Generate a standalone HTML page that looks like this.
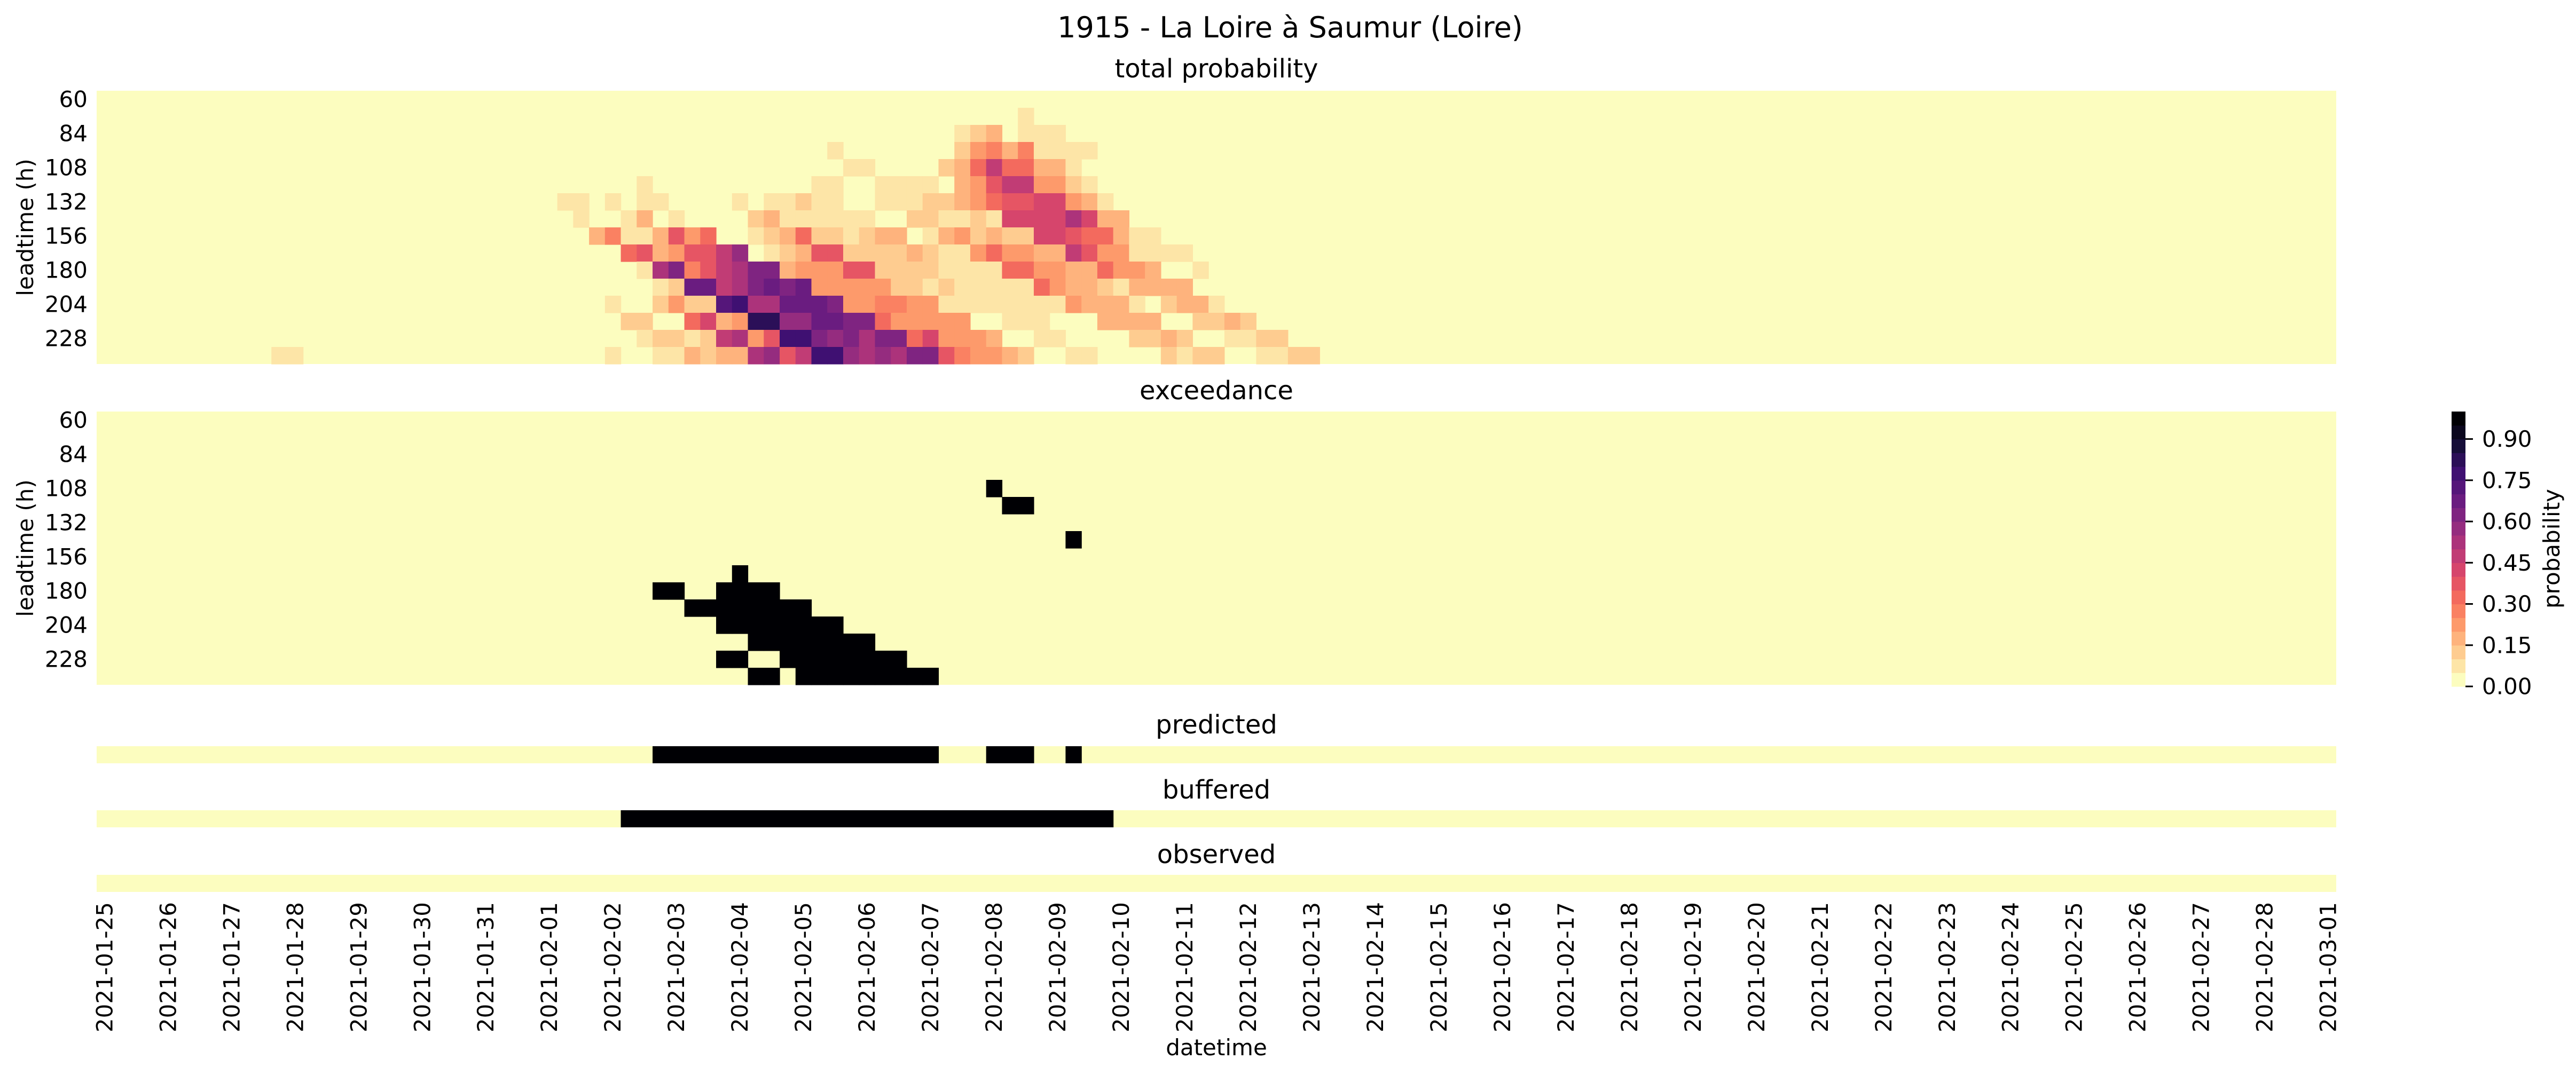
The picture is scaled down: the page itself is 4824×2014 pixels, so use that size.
<!DOCTYPE html>
<html><head><meta charset="utf-8"><style>
html,body{margin:0;padding:0;background:#fff;}
svg{display:block;font-family:"DejaVu Sans","Liberation Sans",sans-serif;}
</style></head><body>
<svg id="chart" width="4824" height="2014" viewBox="0 0 4824 2014" xmlns="http://www.w3.org/2000/svg">
<rect width="4824" height="2014" fill="#fff"/>
<text x="2416" y="70" font-size="54" text-anchor="middle">1915 - La Loire à Saumur (Loire)</text>
<text x="2278" y="145" font-size="48" text-anchor="middle">total probability</text>
<text x="2278" y="748" font-size="48" text-anchor="middle">exceedance</text>
<text x="2278" y="1374" font-size="48" text-anchor="middle">predicted</text>
<text x="2278" y="1496" font-size="48" text-anchor="middle">buffered</text>
<text x="2278" y="1617" font-size="48" text-anchor="middle">observed</text>
<text x="2278" y="1977" font-size="42" text-anchor="middle">datetime</text>
<text transform="translate(62,426) rotate(-90)" font-size="42" text-anchor="middle">leadtime (h)</text>
<text transform="translate(62,1027) rotate(-90)" font-size="42" text-anchor="middle">leadtime (h)</text>
<text transform="translate(4793,1028) rotate(-90)" font-size="42" text-anchor="middle">probability</text>
<g id="layers"></g>
</svg>
<script>
// ---- data ----
const leadtimes = [60,72,84,96,108,120,132,144,156,168,180,192,204,216,228,240];
const yTickLabels = [60,84,108,132,156,180,204,228];
const nCols = 141; // 6-hourly steps from 2021-01-25 00:00
const dateLabels = ["2021-01-25","2021-01-26","2021-01-27","2021-01-28","2021-01-29","2021-01-30","2021-01-31","2021-02-01","2021-02-02","2021-02-03","2021-02-04","2021-02-05","2021-02-06","2021-02-07","2021-02-08","2021-02-09","2021-02-10","2021-02-11","2021-02-12","2021-02-13","2021-02-14","2021-02-15","2021-02-16","2021-02-17","2021-02-18","2021-02-19","2021-02-20","2021-02-21","2021-02-22","2021-02-23","2021-02-24","2021-02-25","2021-02-26","2021-02-27","2021-02-28","2021-03-01"];
const cbTicks = [0,0.15,0.30,0.45,0.60,0.75,0.90];
// total probability: first nonzero column per leadtime row, then values
const probRowStart = [0,58,54,46,47,34,29,30,31,33,34,35,32,33,34,11];
const probRowValues = [
 [],
 [.05],
 [.05,.1,.15,0,.05,.05,.05],
 [.05,0,0,0,0,0,0,0,.1,.2,.25,.15,.25,.05,.05,.05,.05],
 [.05,.05,0,0,0,0,.1,.15,.3,.45,.3,.3,.15,.15,.05],
 [.05,0,0,0,0,0,0,0,0,0,0,.05,.05,0,0,.05,.05,.05,.05,0,.15,.2,.35,.45,.45,.2,.2,.1,.05],
 [.05,.05,0,.05,0,.05,.05,0,0,0,0,.05,0,.05,.05,.1,.05,.05,0,0,.05,.05,.05,.1,.1,.15,.2,.3,.35,.35,.4,.4,.2,.15,.05],
 [.05,0,0,.05,.15,0,.05,0,0,0,0,.1,.15,.05,.05,.05,.05,.05,.05,0,0,.1,.1,.05,.05,.1,.05,.4,.4,.4,.4,.5,.4,.15,.15],
 [.15,.25,.05,.05,.15,.35,.2,.3,0,0,.05,.1,.15,.3,.1,.1,.05,.1,.15,.15,0,.05,.15,.2,.1,.15,.1,.1,.4,.4,.35,.3,.3,.15,.05,.05],
 [.3,.35,.15,.2,.35,.35,.45,.55,0,.05,.1,.15,.35,.35,.1,.1,.1,.1,.15,.1,.05,.05,.2,.3,.2,.2,.15,.15,.45,.35,.2,.2,.05,.05,.05,.05],
 [.05,.5,.6,.25,.35,.45,.5,.6,.6,.15,.2,.2,.2,.35,.35,.1,.1,.1,.1,.05,.05,.05,.05,.3,.3,.2,.2,.15,.15,.3,.2,.2,.15,0,0,.05],
 [.05,.1,.65,.65,.45,.5,.6,.65,.6,.65,.2,.2,.2,.2,.2,.1,.1,.05,.1,.05,.05,.05,.05,.05,.3,.2,.15,.15,.1,.05,.15,.15,.15,.15],
 [.05,0,0,.1,.2,.1,.1,.7,.75,.5,.5,.65,.65,.65,.6,.2,.2,.25,.25,.2,.2,.05,.05,.05,.05,.05,.05,.05,.05,.2,.15,.15,.15,.05,0,.1,.15,.15,.05],
 [.1,.1,0,0,.3,.4,.15,.2,.8,.8,.55,.55,.65,.65,.6,.6,.3,.2,.2,.2,.2,.2,0,0,.05,.05,.05,0,0,0,.15,.15,.15,.15,0,0,.1,.1,.15,.1],
 [.05,.1,.1,.05,.1,.45,.5,.2,.35,.75,.75,.6,.55,.6,.5,.6,.6,.3,.4,.2,.2,.2,.15,0,0,.05,.05,0,0,0,0,.1,.1,.15,.1,0,0,.05,.05,.1,.1],
 [.05,.05,0,0,0,0,0,0,0,0,0,0,0,0,0,0,0,0,0,0,0,.05,0,0,.05,.05,.15,.1,.15,.15,.5,.55,.35,.45,.75,.75,.55,.5,.55,.5,.6,.6,.35,.25,.2,.2,.15,.1,0,0,.05,.05,0,0,0,0,.1,.05,.1,.1,0,0,.05,.05,.1,.1]
];
// exceedance: columns flagged per leadtime row
const exceedCols = [
 [],[],[],[],[56],[57,58],[],[61],[],[40],
 [35,36,39,40,41,42],
 [37,38,39,40,41,42,43,44],
 [39,40,41,42,43,44,45,46],
 [41,42,43,44,45,46,47,48],
 [39,40,43,44,45,46,47,48,49,50],
 [41,42,44,45,46,47,48,49,50,51,52]
];
const predictedCols = [35,36,37,38,39,40,41,42,43,44,45,46,47,48,49,50,51,52,56,57,58,61];
const bufferedCols = [33,34,35,36,37,38,39,40,41,42,43,44,45,46,47,48,49,50,51,52,53,54,55,56,57,58,59,60,61,62,63];
const observedCols = [];

// ---- layout ----
const NS = "http://www.w3.org/2000/svg";
const X0 = 181, X1 = 4375;
const colW = (X1 - X0) / nCols;
const xScale = c => X0 + c * colW;
const probTop = 170, rowH = 32;
const excTop = 771;
const stripH = 32;
const predTop = 1398, bufTop = 1518, obsTop = 1639;
const cbX = 4591, cbW = 26, cbTop = 771, cbBot = 1286;
const cbScale = v => cbBot - v * (cbBot - cbTop);

const magmaStops = ["#000004","#140e36","#3b0f70","#641a80","#8c2981","#b73779","#de4968","#f7705c","#fe9f6d","#fecf92","#fcfdbf"];
function hex(h){return [1,3,5].map(i=>parseInt(h.substr(i,2),16));}
function magma(t){
  t = Math.max(0,Math.min(1,t));
  const p = t*10, i = Math.min(9,Math.floor(p)), f = p - i;
  const a = hex(magmaStops[i]), b = hex(magmaStops[i+1]);
  return "rgb(" + a.map((v,k)=>Math.round(v+(b[k]-v)*f)).join(",") + ")";
}
function bandColor(k){ return magma(1 - k/19); }
function valColor(v){ return bandColor(Math.min(19, Math.max(0, Math.floor(v*20 + 1e-6)))); }

const layers = document.getElementById("layers");
function mk(tag, attrs, parent){
  const el = document.createElementNS(NS, tag);
  for (const k in attrs) el.setAttribute(k, attrs[k]);
  (parent||layers).appendChild(el);
  return el;
}

// total probability heatmap
const gProb = mk("g", {});


const bgP = mk("rect", {x:X0, y:probTop, width:X1-X0, height:rowH*leadtimes.length, fill:valColor(0)}, gProb);


probRowValues.forEach((vals, r) => {
  vals.forEach((v, i) => {
    if (v <= 0) return;
    const c = probRowStart[r] + i;
    const cell = mk("rect", {x:xScale(c), y:probTop + r*rowH, width:colW+0.6, height:rowH+0.6, fill:valColor(v)}, gProb);
    
    
  });
});

// exceedance heatmap
const gExc = mk("g", {});


const bgE = mk("rect", {x:X0, y:excTop, width:X1-X0, height:rowH*leadtimes.length, fill:valColor(0)}, gExc);


exceedCols.forEach((cols, r) => {
  cols.forEach(c => {
    const cell = mk("rect", {x:xScale(c), y:excTop + r*rowH, width:colW+0.6, height:rowH+0.6, fill:valColor(1)}, gExc);
    
    
  });
});

// strips
function strip(cols, top, name){
  const g = mk("g", {});
  
  
  const bg = mk("rect", {x:X0, y:top, width:X1-X0, height:stripH, fill:valColor(0)}, g);
  
  
  cols.forEach(c => {
    const cell = mk("rect", {x:xScale(c), y:top, width:colW+0.6, height:stripH, fill:valColor(1)}, g);
    
    
  });
}
strip(predictedCols, predTop, 'predicted-strip');
strip(bufferedCols, bufTop, 'buffered-strip');
strip(observedCols, obsTop, 'observed-strip');

// y tick labels
[probTop, excTop].forEach((top, p) => {
  yTickLabels.forEach(lt => {
    const r = leadtimes.indexOf(lt);
    const t = mk("text", {x:164, y:top + (r+0.5)*rowH, "font-size":42, "text-anchor":"end", "dominant-baseline":"central"});
    
    
    t.textContent = lt;
  });
});

// x tick labels
dateLabels.forEach((d, i) => {
  const cx = xScale(i*4 + 0.5);
  const t = mk("text", {transform:"translate("+cx+",1690) rotate(-90)", "font-size":42, "text-anchor":"end", "dominant-baseline":"central"});
  
  
  t.textContent = d;
});

// colorbar
const gCb = mk("g", {});


for (let k = 0; k < 20; k++) {
  const y1 = cbScale((k+1)/20), y0 = cbScale(k/20);
  const b = mk("rect", {x:cbX, y:y1, width:cbW, height:(y0-y1)+0.6, fill:bandColor(k)}, gCb);
  
  
}
cbTicks.forEach(v => {
  const y = cbScale(v);
  const tk = mk("line", {x1:cbX+cbW, x2:cbX+cbW+14, y1:y, y2:y, stroke:"#000", "stroke-width":3}, gCb);
  
  
  const t = mk("text", {x:4648, y:y, "font-size":42, "dominant-baseline":"central"}, gCb);
  
  
  t.textContent = v.toFixed(2);
});
</script>
</body></html>
